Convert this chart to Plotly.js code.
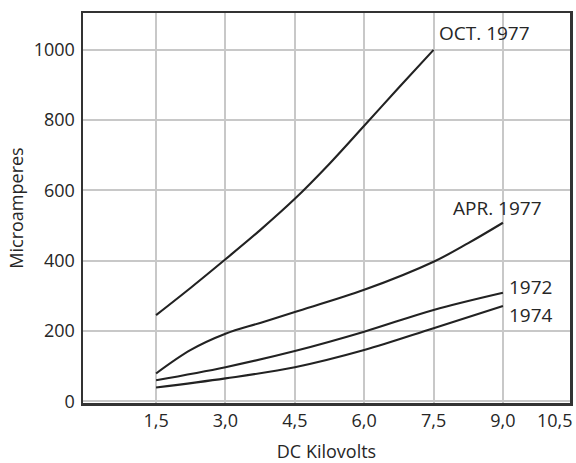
<!DOCTYPE html>
<html>
<head>
<meta charset="utf-8">
<script src="https://cdn.plot.ly/plotly-3.0.1.min.js"></script>
<style>html,body{margin:0;padding:0;background:#fff;}#chart{width:576px;height:463px;}</style>
</head>
<body>
<div id="chart"></div>
<script>
// Data
const octKv = [1.5, 2.25, 3.0, 3.75, 4.5, 5.25, 6.0, 6.75, 7.5];
const oct1977 = [245, 323, 404, 487, 576, 676, 784, 893, 1000];
const aprKv = [1.5, 2.25, 3.0, 3.75, 4.5, 6.0, 7.5, 8.25, 9.0];
const apr1977 = [79, 146, 192, 223, 254, 317, 397, 450, 508];
const kv = [1.5, 3.0, 4.5, 6.0, 7.5, 9.0];
const y1972 = [60, 97, 143, 198, 260, 309];
const y1974 = [39, 65, 97, 146, 208, 271];
const seriesNames = ["OCT. 1977", "APR. 1977", "1972", "1974"];
const xTickVals = [1.5, 3.0, 4.5, 6.0, 7.5, 9.0];
const xTickText = ["1,5", "3,0", "4,5", "6,0", "7,5", "9,0"];
const lastXTick = "10,5";
const yTickVals = [0, 200, 400, 600, 800, 1000];

const lineStyle = {color: '#222', width: 2.1, shape: 'spline', smoothing: 1};
const traces = [
  {x: octKv, y: oct1977, name: seriesNames[0]},
  {x: aprKv, y: apr1977, name: seriesNames[1]},
  {x: kv, y: y1972, name: seriesNames[2]},
  {x: kv, y: y1974, name: seriesNames[3]}
].map(t => Object.assign(t, {type: 'scatter', mode: 'lines', line: lineStyle, hoverinfo: 'skip'}));

const font = {family: '"Open Sans", "Noto Sans", sans-serif', color: '#262626'};
const f = s => Object.assign({}, font, {size: s});
const lab = (x, y, text) => ({x: x, y: y, xref: 'x', yref: 'y', text: text, showarrow: false,
  xanchor: 'left', yanchor: 'middle', font: f(19)});

const layout = {
  width: 576, height: 463,
  margin: {l: 83, r: 6, t: 13, b: 60},
  paper_bgcolor: '#fff', plot_bgcolor: '#fff',
  showlegend: false,
  font: f(18),
  xaxis: {
    range: [-0.08, 10.45],
    tickvals: xTickVals, ticktext: xTickText,
    showgrid: true, gridcolor: '#c8c8c8', gridwidth: 2,
    zeroline: false, showline: true, mirror: true, linecolor: '#333', linewidth: 2.5,
    ticks: '', tickfont: f(18),
    title: {text: 'DC Kilovolts', font: f(18), standoff: 15}
  },
  yaxis: {
    range: [-5, 1105],
    tickvals: yTickVals,
    showgrid: true, gridcolor: '#c8c8c8', gridwidth: 2,
    zeroline: false, showline: true, mirror: true, linecolor: '#333', linewidth: 2.5,
    ticks: '', tickfont: f(18), ticklabelstandoff: 2,
    title: {text: 'Microamperes', font: f(18), standoff: 6}
  },
  annotations: [
    lab(7.57, 1048, seriesNames[0]),
    lab(7.88, 550, seriesNames[1]),
    lab(9.08, 326, seriesNames[2]),
    lab(9.08, 246, seriesNames[3]),
    {x: 1, y: 0, xref: 'paper', yref: 'paper', text: lastXTick, showarrow: false,
     xanchor: 'right', yanchor: 'top', yshift: -3, xshift: 5, font: f(18)}
  ]
};

Plotly.newPlot('chart', traces, layout, {displayModeBar: false, staticPlot: true});
</script>
</body>
</html>
